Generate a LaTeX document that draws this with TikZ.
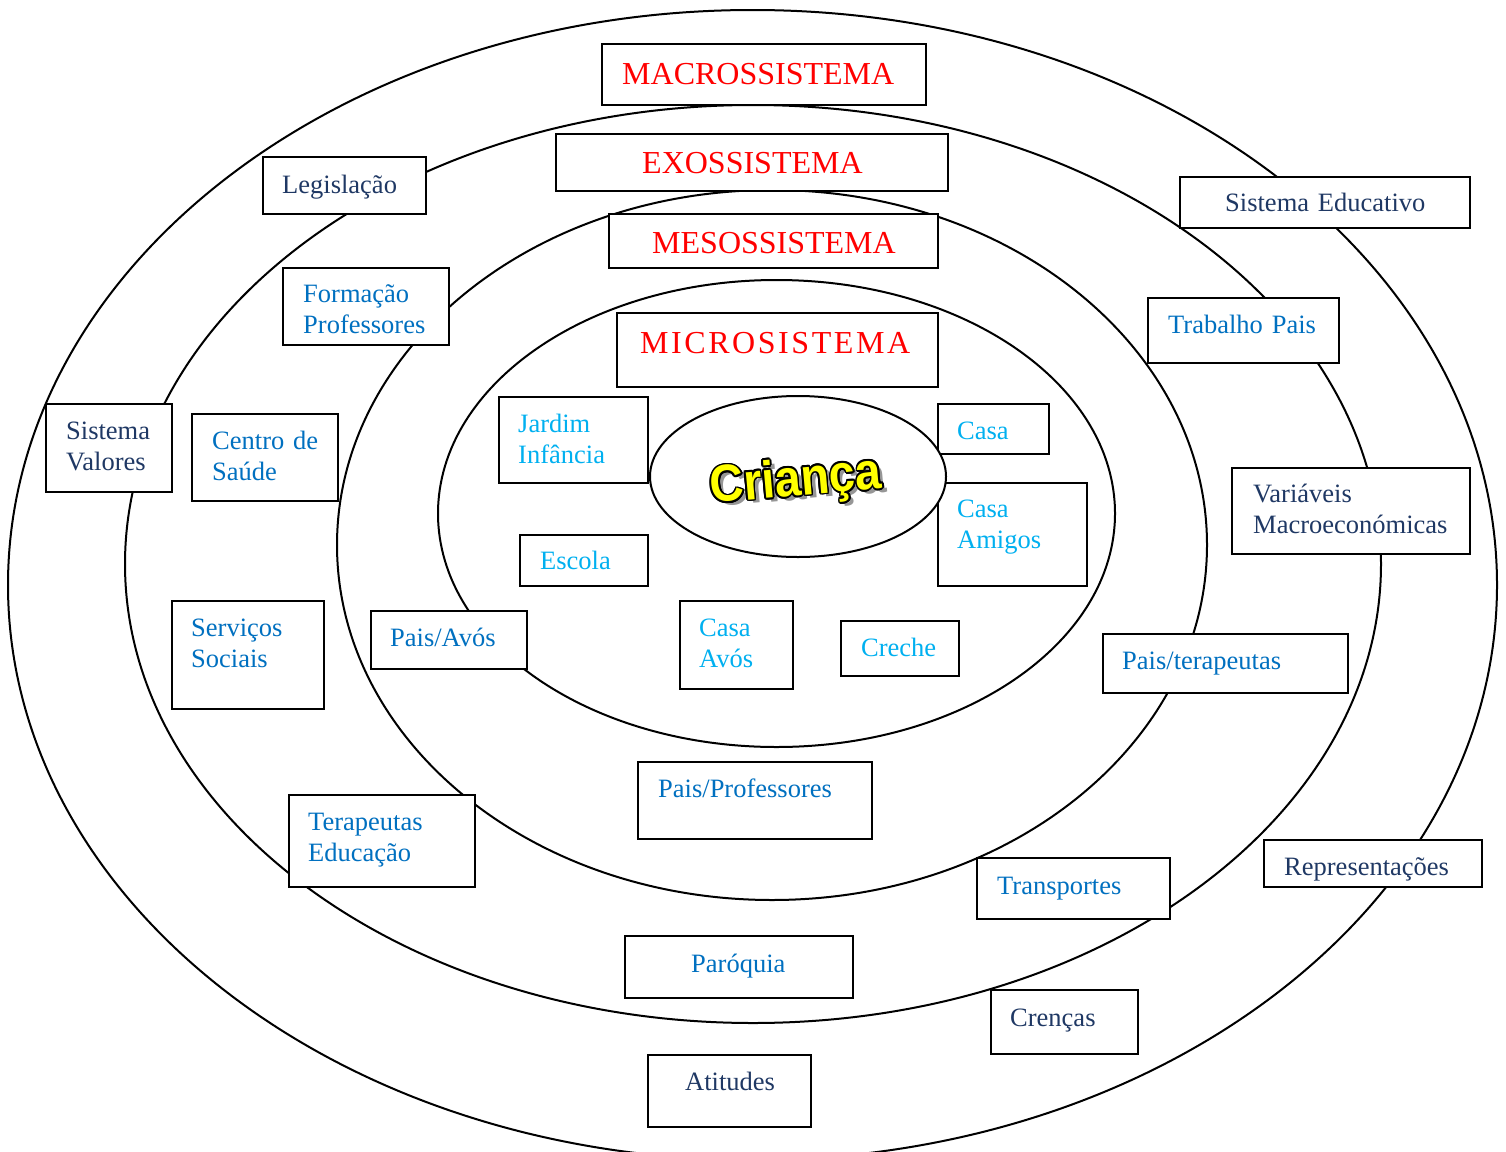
\documentclass[tikz,border=0pt]{standalone}
\usepackage{fontspec}
\setmainfont{Liberation Serif}
\newfontfamily\kidfont{Liberation Sans}
\usepackage[copies]{contour}
\usepackage{tikz}
\usetikzlibrary{shapes,positioning}
\definecolor{bfnavy}{RGB}{31,56,100}
\definecolor{bfblue}{RGB}{0,112,192}
\definecolor{bfcyan}{RGB}{0,176,240}
\definecolor{bfred}{RGB}{255,0,0}
\definecolor{bfyellow}{RGB}{255,255,0}
\definecolor{bfshadow}{RGB}{150,150,150}
\tikzstyle{ring} = [ellipse, draw=black, line width=2pt, inner sep=0pt]
\tikzstyle{sysbox} = [rectangle, draw=black, fill=white, line width=2pt, anchor=north west, inner sep=0pt]
\tikzstyle{systitle} = [anchor=base west, inner sep=0pt, text=bfred, font=\fontsize{32}{38}\selectfont]
\tikzstyle{lbl} = [anchor=base west, inner sep=0pt, align=left, text width=320, font=\fontsize{26.5}{31.5}\selectfont]
\tikzstyle{macrolbl} = [lbl, text=bfnavy]
\tikzstyle{exolbl} = [lbl, text=bfblue]
\tikzstyle{microlbl} = [lbl, text=bfcyan]
\tikzstyle{kid} = [inner sep=0pt, rotate=5, xscale=0.9, font=\kidfont\bfseries\fontsize{52}{56}\selectfont]
\contourlength{1.8pt}
\contournumber{16}

\begin{document}
\begin{tikzpicture}[x=1pt, y=-1pt]
    \useasboundingbox (0,0) rectangle (1506,1151);
    \clip (0,0) rectangle (1506,1151);

    % Rings
    \node[ring, minimum width=1489, minimum height=1150] (macroring) at (752.5,585) {};
    \node[ring, minimum width=1256, minimum height=918] (exoring) at (753,564) {};
    \node[ring, minimum width=870, minimum height=710] (mesoring) at (772,545) {};
    \node[ring, minimum width=677, minimum height=467] (microring) at (776.5,513.5) {};

    % Titles
    \node[sysbox, minimum width=324, minimum height=61] (macro) at (601,43) {};
    \node[sysbox, minimum width=392, minimum height=57] (exo) at (555,133) {};
    \node[sysbox, minimum width=329, minimum height=54] (meso) at (608,213) {};
    \node[sysbox, minimum width=321, minimum height=74] (micro) at (616,312) {};
    \node[systitle] (macro-t) at (622,84) {MACROSSISTEMA};
    \node[systitle] (exo-t) at (642,173) {EXOSSISTEMA};
    \node[systitle] (meso-t) at (652,253) {MESOSSISTEMA};
    \node[systitle] (micro-t) at (640,353) {\addfontfeature{LetterSpace=8}MICROSISTEMA};

    % Macrosystem
    \node[sysbox, minimum width=163, minimum height=57] (legis) at (262,156) {};
    \node[sysbox, minimum width=290, minimum height=51] (educ) at (1179,176) {};
    \node[sysbox, minimum width=126, minimum height=88] (valores) at (45,403) {};
    \node[sysbox, minimum width=238, minimum height=86] (macroecon) at (1231,467) {};
    \node[sysbox, minimum width=218, minimum height=47] (repres) at (1263,839) {};
    \node[sysbox, minimum width=147, minimum height=64] (crencas) at (990,989) {};
    \node[sysbox, minimum width=163, minimum height=72] (atitudes) at (647,1054) {};
    \node[macrolbl] (legis-t) at (282,193) {Legislação};
    \node[macrolbl] (educ-t) at (1225,211) {Sistema Educativo};
    \node[macrolbl] (valores-t) at (66,439) {Sistema\\Valores};
    \node[macrolbl] (macroecon-t) at (1253,502) {Variáveis\\Macroeconómicas};
    \node[macrolbl] (repres-t) at (1284,875) {Representações};
    \node[macrolbl] (crencas-t) at (1010,1026) {Crenças};
    \node[macrolbl] (atitudes-t) at (685,1090) {Atitudes};

    % Exosystem and mesosystem
    \node[sysbox, minimum width=166, minimum height=77] (formprof) at (282,267) {};
    \node[sysbox, minimum width=191, minimum height=65] (trabpais) at (1147,297) {};
    \node[sysbox, minimum width=146, minimum height=87] (saude) at (191,413) {};
    \node[sysbox, minimum width=152, minimum height=108] (sociais) at (171,600) {};
    \node[sysbox, minimum width=156, minimum height=58] (paisavos) at (370,610) {};
    \node[sysbox, minimum width=245, minimum height=59] (paister) at (1102,633) {};
    \node[sysbox, minimum width=234, minimum height=77] (paisprof) at (637,761) {};
    \node[sysbox, minimum width=186, minimum height=92] (terap) at (288,794) {};
    \node[sysbox, minimum width=193, minimum height=61] (transp) at (976,857) {};
    \node[sysbox, minimum width=228, minimum height=62] (paroquia) at (624,935) {};
    \node[exolbl] (formprof-t) at (303,302) {Formação\\Professores};
    \node[exolbl] (trabpais-t) at (1168,333) {Trabalho Pais};
    \node[exolbl] (saude-t) at (212,449) {Centro de\\Saúde};
    \node[exolbl] (sociais-t) at (191,636) {Serviços\\Sociais};
    \node[exolbl] (paisavos-t) at (390,646) {Pais/Avós};
    \node[exolbl] (paister-t) at (1122,669) {Pais/terapeutas};
    \node[exolbl] (paisprof-t) at (658,797) {Pais/Professores};
    \node[exolbl] (terap-t) at (308,830) {Terapeutas\\Educação};
    \node[exolbl] (transp-t) at (997,894) {Transportes};
    \node[exolbl] (paroquia-t) at (691,972) {Paróquia};

    % Microsystem
    \node[sysbox, minimum width=149, minimum height=86] (jardim) at (498,396) {};
    \node[sysbox, minimum width=111, minimum height=50] (casa) at (937,403) {};
    \node[sysbox, minimum width=149, minimum height=103] (amigos) at (937,482) {};
    \node[sysbox, minimum width=128, minimum height=51] (escola) at (519,534) {};
    \node[sysbox, minimum width=113, minimum height=88] (casaavos) at (679,600) {};
    \node[sysbox, minimum width=118, minimum height=55] (creche) at (840,620) {};
    \node[microlbl] (jardim-t) at (518,432) {Jardim\\Infância};
    \node[microlbl] (casa-t) at (957,439) {Casa};
    \node[microlbl] (amigos-t) at (957,517) {Casa\\Amigos};
    \node[microlbl] (escola-t) at (540,569) {Escola};
    \node[microlbl] (casaavos-t) at (699,636) {Casa\\Avós};
    \node[microlbl] (creche-t) at (861,656) {Creche};

    % Child
    \node[ellipse, draw=black, fill=white, line width=2pt, inner sep=0pt, minimum width=296, minimum height=161] (kidring) at (798,476.5) {};
    \node[kid, text=bfshadow] (kid-s) at (801,486) {Criança};
    \node[kid, text=bfyellow] (kid) at (796,483) {\contour{black}{Criança}};
\end{tikzpicture}
\end{document}
